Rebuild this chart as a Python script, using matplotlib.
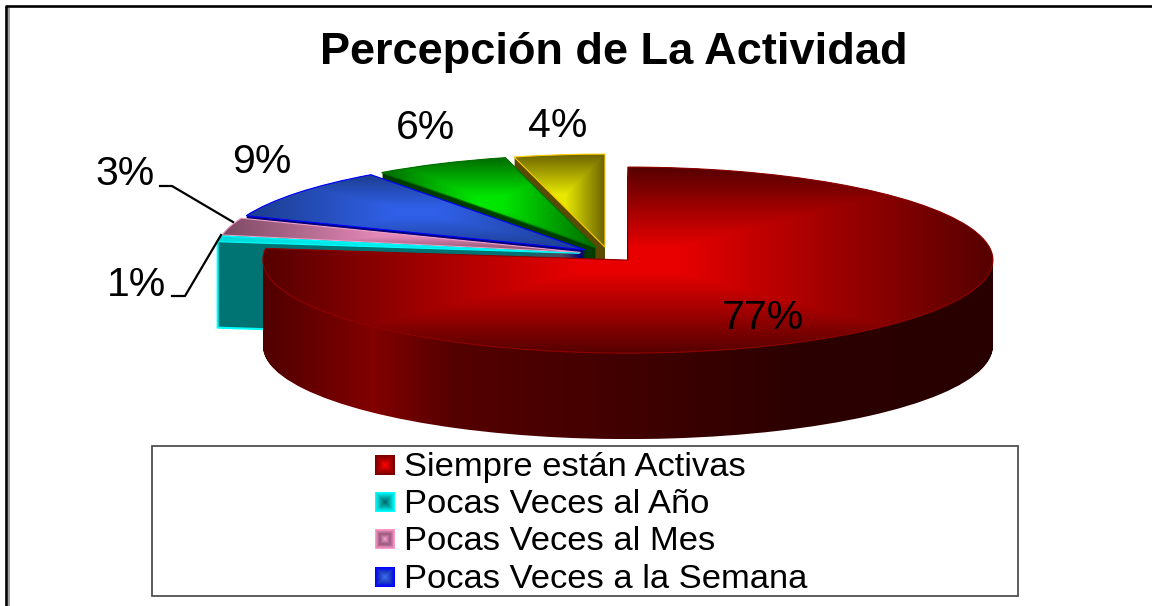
#!/usr/bin/env python3
import numpy as np
import matplotlib
matplotlib.use("Agg")
import matplotlib.pyplot as plt
from matplotlib.path import Path
from matplotlib.patches import Rectangle

title = "Percepción de La Actividad"
legend_labels = ["Siempre están Activas", "Pocas Veces al Año",
                 "Pocas Veces al Mes", "Pocas Veces a la Semana"]
values = [77, 1, 3, 9, 6, 4]
explode = [0.08] * 6

# top face colours: centre of gradient, edge of gradient, outline
top_center = ["#e80000", "#00f0f0", "#e488b8", "#3060e8", "#00e600", "#e8e800"]
top_edge = ["#560000", "#00d8d8", "#7c4a62", "#1c3c8c", "#006a00", "#6c6400"]
top_line = ["#900000", "#00ffff", "#f0a0c8", "#0000ff", "#007000", "#ffcc00"]
# wall colour along x, as (fraction of width, rgb)
wall_stops = [
    [(0, (80, 0, 0)), (.15, (130, 0, 0)), (.26, (84, 0, 0)), (.46, (68, 0, 0)),
     (.73, (44, 0, 0)), (1, (40, 0, 0))],
    [(0, (0, 115, 115)), (1, (0, 115, 115))],
    [(0, (110, 60, 85)), (1, (110, 60, 85))],
    [(0, (0, 0, 120)), (1, (0, 0, 120))],
    [(0, (0, 60, 0)), (1, (0, 60, 0))],
    [(0, (90, 75, 0)), (1, (90, 75, 0))],
]
# back slices are painted first, the red one last
paint_rank = [5, 4, 3, 2, 1, 0]

# (outer, middle, inner) of the legend keys
key_colors = [("#7c0000", "#b00000", "#ff0000"),
              ("#00ffff", "#00b0b0", "#006c6c"),
              ("#ff99cc", "#96587a", "#f09ac8"),
              ("#0000ff", "#2040c0", "#3a6ae8")]

# percent labels
pct_text = [f"{v}%" for v in values]
pct_x = [763, 136, 125, 262, 425, 558]
pct_y = [318, 285, 174, 162, 128, 126]
leader_3_x, leader_3_y = [160, 172, 233], [186, 186, 222]
leader_1_x, leader_1_y = [172, 185, 221], [296, 296, 235]

W, H = 1152, 606
RX, RY = 365.0, 93.0
CX, CY = 608.6, 254.5
DEPTH = 86

plt.rcParams['font.family'] = ['Liberation Sans', 'DejaVu Sans']
fig = plt.figure(figsize=(W / 100, H / 100), dpi=100, facecolor='white')


def rgb(c):
    return np.array(matplotlib.colors.to_rgb(c))


def top_gradient(ax, wedge, center, edge, zorder):
    box = wedge.get_path().get_extents()
    xs = np.linspace(-1, 1, 200)
    dx, dy = np.meshgrid(xs, xs)
    t = 1 - np.maximum(np.abs(dx), np.abs(dy))
    img = rgb(edge) + (rgb(center) - rgb(edge)) * np.clip(t * 1.15, 0, 1)[..., None]
    im = ax.imshow(img, extent=(box.x0, box.x1, box.y0, box.y1), origin='lower',
                   aspect='auto', interpolation='bilinear', zorder=zorder)
    im.set_clip_path(wedge)


def wall_gradient(ax, path, stops, zorder):
    box = path.get_extents()
    fr = [s[0] for s in stops]
    xs = np.linspace(0, 1, 400)
    line = np.stack([np.interp(xs, fr, [s[1][k] for s in stops]) for k in range(3)], axis=-1) / 255
    im = ax.imshow(line[None, :, :], extent=(box.x0, box.x1, box.y0, box.y1), origin='lower',
                   aspect='auto', interpolation='bilinear', zorder=zorder)
    im.set_clip_path(path, ax.transData)


# pie axes: radius 1 is squashed to the ellipse of the reference
ax = fig.add_axes([0, 0, 1, 1])
pie_kw = dict(explode=explode, startangle=90, counterclock=False, radius=1)

# stack of pies gives the outline of each wall
layers = [[] for _ in values]
for d in np.linspace(0, DEPTH / RY, DEPTH + 1):
    wedges, _ = ax.pie(values, center=(0, -d), **pie_kw)
    for i, w in enumerate(wedges):
        layers[i].append(w.get_path())
        w.remove()

for i in range(len(values)):
    z = 10 + 10 * paint_rank[i]
    wall_gradient(ax, Path.make_compound_path(*layers[i]), wall_stops[i], z)

top, _ = ax.pie(values, center=(0, 0), **pie_kw)
for i, w in enumerate(top):
    z = 10 + 10 * paint_rank[i]
    w.set(facecolor='none', edgecolor=top_line[i], linewidth=0.8, zorder=z + 2)
    top_gradient(ax, w, top_center[i], top_edge[i], z + 1)

# bright outline of the cyan wall: outer corner down, then along the bottom
w = top[1]
ang = np.radians(w.theta2)
cor_x = w.center[0] + w.r * np.cos(ang)
cor_y = w.center[1] + w.r * np.sin(ang)
low_y = cor_y - DEPTH / RY
ax.plot([cor_x, cor_x, w.center[0]], [cor_y, low_y, w.center[1] - DEPTH / RY],
        color=top_line[1], lw=1.5, zorder=10 + 10 * paint_rank[1] + 3)

ax.set_aspect('auto')
ax.set_xlim(-CX / RX, (W - CX) / RX)
ax.set_ylim(-(H - CY) / RY, CY / RY)
ax.axis('off')

# overlay in image pixels for text, frame and legend
ov = fig.add_axes([0, 0, 1, 1], facecolor='none')
ov.set_xlim(0, W)
ov.set_ylim(H, 0)
ov.axis('off')

# page border
ov.plot([6, 6], [H, 6], color='black', lw=1.9, solid_capstyle='butt')
ov.plot([5, W], [6, 6], color='black', lw=1.9, solid_capstyle='butt')
ov.plot([8.7, 8.7], [H, 8], color='#a0a0a0', lw=1.4, solid_capstyle='butt')

ov.text(614, 64, title, ha='center', va='baseline', fontsize=32.5, fontweight='bold', color='black')

for t, x, y in zip(pct_text, pct_x, pct_y):
    ov.text(x, y, t, ha='center', va='center', fontsize=29.5, color='black', zorder=5)
ov.plot(leader_3_x, leader_3_y, color='black', lw=1.6)
ov.plot(leader_1_x, leader_1_y, color='black', lw=1.6)

# legend box, only four entries fit in the reference
ov.add_patch(Rectangle((152, 446), 866, 150, facecolor='white', edgecolor='#505050', lw=1.3))
key_y = [465, 502, 539, 577]
for lab, y, cols in zip(legend_labels, key_y, key_colors):
    for half in np.arange(10, 0, -1):
        pos = (10 - half) / 9 * 2
        c = np.array([np.interp(pos, [0, 1, 2], [rgb(k)[n] for k in cols]) for n in range(3)])
        ov.add_patch(Rectangle((385 - half, y - half), 2 * half, 2 * half, facecolor=c, edgecolor='none'))
    ov.text(404, y + 2.5, lab, ha='left', va='center', fontsize=24.8, color='black')

fig.savefig('out.png', dpi=100)
